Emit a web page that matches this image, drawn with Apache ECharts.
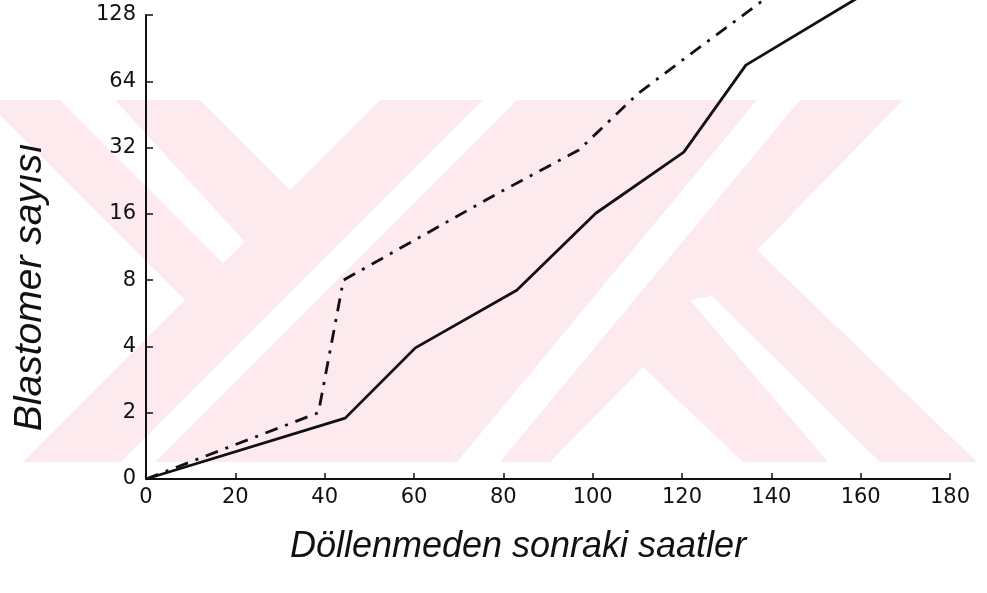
<!DOCTYPE html>
<html>
<head>
<meta charset="utf-8">
<script src="https://cdn.jsdelivr.net/npm/echarts@6/dist/echarts.min.js"></script>
<style>
  html, body { margin: 0; padding: 0; background: #fff; }
  #chart { width: 987px; height: 593px; }
</style>
</head>
<body>
<div id="chart"></div>
<script>
// hours after fertilisation
let solidHours = [0, 44.6, 60.3, 83, 100.7, 120.4, 134.3, 160]
let solidCounts = [1, 1.89, 3.94, 7.2, 16.1, 30.5, 75.8, 156]
let dashHours = [0, 38.6, 44.2, 78.9, 96.9, 110.3, 123.1, 138.3, 145]
let dashCounts = [1, 2.0, 8.0, 19.9, 31.2, 56.6, 88.7, 150, 190]
// y tick values (log2 axis), bottom tick is drawn as "0"
let yTicks = [1, 2, 4, 8, 16, 32, 64, 128]
let yTickLabels = ['0', '2', '4', '8', '16', '32', '64', '128']

const chart = echarts.init(document.getElementById('chart'))

function pairs (xs, ys) {
  let out = []
  for (let i = 0; i < xs.length; i++) {
    out.push([xs[i], ys[i]])
  }
  return out
}

const pink = '#fdeaee'
// background watermark (scan artefact), kept very light
const wm = [
  { type: 'rect', shape: { x: 0, y: 100, width: 990, height: 362 }, style: { fill: pink } },
  { type: 'polygon', shape: { points: [[0, 115], [185, 300], [23, 462], [0, 462]] }, style: { fill: '#fff' } },
  { type: 'polygon', shape: { points: [[60, 100], [115, 100], [245, 242], [223, 263]] }, style: { fill: '#fff' } },
  { type: 'polygon', shape: { points: [[200, 100], [380, 100], [290, 190]] }, style: { fill: '#fff' } },
  { type: 'polygon', shape: { points: [[483, 100], [517, 100], [155, 462], [121, 462]] }, style: { fill: '#fff' } },
  { type: 'polygon', shape: { points: [[757, 100], [800, 100], [500, 462], [457, 462]] }, style: { fill: '#fff' } },
  { type: 'polygon', shape: { points: [[903, 100], [990, 100], [990, 462], [977, 462], [757, 250]] }, style: { fill: '#fff' } },
  { type: 'polygon', shape: { points: [[690, 300], [712, 296], [880, 462], [828, 462]] }, style: { fill: '#fff' } },
  { type: 'polygon', shape: { points: [[643, 367], [743, 462], [550, 462]] }, style: { fill: '#fff' } }
]
wm.forEach(function (el, i) {
  el.z = -20 + i
  el.silent = true
})

let option = {
  backgroundColor: '#fff',
  animation: false,
  graphic: { elements: wm },
  grid: { left: 146, right: 37, top: 15, bottom: 114 },
  xAxis: {
    type: 'value',
    min: 0,
    max: 180,
    interval: 20,
    name: 'Döllenmeden sonraki saatler',
    nameLocation: 'middle',
    nameGap: 50,
    nameTextStyle: {
      fontFamily: 'Liberation Sans',
      fontStyle: 'italic',
      fontSize: 36,
      color: '#111',
      padding: [0, 60, 0, 0]
    },
    axisLine: { show: true, lineStyle: { color: '#111', width: 2 } },
    axisTick: { show: true, inside: true, length: 6, lineStyle: { color: '#111', width: 1.5 } },
    axisLabel: { color: '#111', fontFamily: 'DejaVu Sans', fontSize: 21, margin: 8 },
    splitLine: { show: false }
  },
  yAxis: {
    type: 'log',
    logBase: 2,
    min: 1,
    max: 128,
    splitNumber: 7,
    name: 'Blastomer sayısı',
    nameLocation: 'middle',
    nameGap: 96,
    nameTextStyle: {
      fontFamily: 'Liberation Sans',
      fontStyle: 'italic',
      fontSize: 39,
      color: '#111',
      padding: [0, 80, 0, 0]
    },
    axisLine: { show: true, lineStyle: { color: '#111', width: 2 } },
    axisTick: { show: true, inside: true, length: 7, lineStyle: { color: '#111', width: 1.5 } },
    axisLabel: {
      color: '#111',
      fontFamily: 'DejaVu Sans',
      fontSize: 21,
      margin: 10,
      formatter: function (v) {
        let i = yTicks.indexOf(Math.round(v))
        return i >= 0 ? yTickLabels[i] : ''
      }
    },
    splitLine: { show: false }
  },
  series: [
    {
      name: 'solid',
      type: 'line',
      clip: false,
      showSymbol: false,
      lineStyle: { color: '#111', width: 2.8 },
      data: pairs(solidHours, solidCounts)
    },
    {
      name: 'dashdot',
      type: 'line',
      clip: false,
      showSymbol: false,
      lineStyle: { color: '#111', width: 2.8, type: [13, 8, 3, 8] },
      data: pairs(dashHours, dashCounts)
    }
  ]
}
chart.setOption(option)
</script>
</body>
</html>
